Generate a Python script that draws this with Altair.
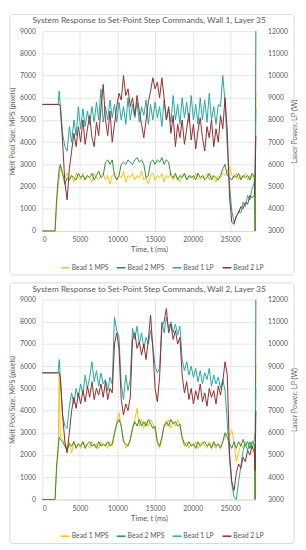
import altair as alt
import pandas as pd

# ---------------- data ----------------
time_ms = [0, 1700, 1900, 2100, 2250, 2400,
           2700, 3000, 3300, 3600, 3900, 4200, 4500, 4800, 5100, 5400,
           5700, 6000, 6300, 6600, 6900, 7200, 7500, 7800, 8100, 8400,
           8700, 9000, 9300, 9600, 9900, 10200, 10500, 10800, 11100, 11400,
           11700, 12000, 12300, 12600, 12900, 13200, 13500, 13800, 14100, 14400,
           14700, 15000, 15300, 15600, 15900, 16200, 16500, 16800, 17100, 17400,
           17700, 18000, 18300, 18600, 18900, 19200, 19500, 19800, 20100, 20400,
           20700, 21000, 21300, 21600, 21900, 22200, 22500, 22800, 23100, 23400,
           23700, 24000, 24300, 24600, 24900, 25200, 25500, 25800, 26100, 26400,
           26700, 27000, 27300, 27600, 27900, 28200,
           28300, 28400]

# Wall 1 -- melt pool size (pixels)
w1_bead1_mps = [0, 0, 1200, 2000, 2400, 2900,
                2500, 2400, 2600, 2300, 2500, 2200, 2600, 2400, 2300, 2600,
                2300, 2500, 2400, 2200, 2600, 2400, 2300, 2500, 2600, 2300,
                2500, 2100, 2500, 2600, 2300, 2500, 2400, 2700, 2200, 2500,
                2400, 2600, 2300, 2500, 2400, 2700, 2300, 2400, 2100, 2500,
                2600, 2300, 2500, 2400, 2600, 2200, 2500, 2400, 2600, 2300,
                2500, 2400, 2200, 2500, 2600, 2300, 2400, 2500, 2300, 2600,
                2400, 2300, 2500, 2400, 2600, 2300, 2500, 2400, 2200, 2500,
                2400, 2600, 2500, 2700, 2900, 2500, 2400, 2600, 2300, 2500,
                2400, 2600, 2300, 2500, 2400, 2500,
                0, 6300]
w1_bead2_mps = [0, 0, 1400, 2300, 2800, 3000,
                2600, 2100, 2400, 2300, 2500, 2400, 2300, 2600, 2400, 2500,
                2300, 2500, 2400, 2600, 2300, 2500, 2700, 2400, 2500, 3100,
                3200, 3000, 3200, 2500, 2300, 2500, 3000, 3100, 3000, 3200,
                3100, 3000, 3200, 3300, 3100, 3200, 3000, 2400, 2500, 3100,
                3200, 3000, 3200, 3100, 3300, 3000, 3200, 3100, 2500, 2400,
                2600, 2300, 2500, 2400, 2600, 2300, 2500, 2400, 2500, 2300,
                2600, 2400, 2500, 2300, 2400, 2600, 2300, 2500, 2400, 2300,
                2500, 2800, 3000, 2500, 2400, 2300, 2500, 2400, 2600, 2300,
                2500, 2400, 2500, 2300, 2600, 2400,
                0, 9000]
# Wall 1 -- laser power (W)
w1_bead1_lp = [8700, 8700, 8700, 8700, 9300, 8600,
               7400, 6800, 6600, 7700, 7000, 8000, 7300, 8600, 7600, 8500,
               7700, 8400, 7800, 8600, 7900, 8800, 8000, 9400, 7900, 8600,
               8000, 8900, 8100, 8700, 7900, 8800, 8000, 8600, 7800, 9000,
               8000, 8700, 8100, 8800, 7900, 8600, 8200, 8900, 7800, 8700,
               8000, 8800, 8100, 8600, 7700, 8900, 8000, 8500, 7900, 9100,
               8000, 8700, 7800, 9000, 8100, 8800, 7900, 9100, 8000, 8700,
               7800, 9000, 8000, 8900, 7900, 9200, 8000, 8600, 7800, 8700,
               8600, 10000, 8800, 6800, 5000, 3900, 3400, 3600, 3900, 3800,
               4300, 4100, 4600, 4400, 4900, 5200,
               5800, 8500]
w1_bead2_lp = [8700, 8700, 8700, 8700, 8700, 8600,
               7000, 5200, 4400, 5800, 6600, 7400, 6800, 7700, 7000, 8000,
               6900, 7600, 8200, 7200, 6800, 7900, 7300, 8500, 9600, 8000,
               7300, 8400, 7000, 7800, 8600, 9200, 8900, 10000, 9100, 9400,
               8600, 9000, 8200, 9100, 8400, 7800, 7200, 8000, 8800, 9300,
               9900, 9400, 9700, 9000, 9900, 9000, 8000, 8600, 7400, 8200,
               6800, 7800, 7200, 8000, 6900, 7600, 8300, 7100, 7800, 6700,
               7500, 8100, 7200, 6600, 7700, 7200, 8000, 6800, 7600, 7000,
               8200, 7600, 9000, 7500, 4500, 3400, 3300, 3700, 3800, 4100,
               4000, 4300, 4200, 4600, 4500, 4600,
               5500, 7300]

# Wall 2 -- melt pool size (pixels)
w2_bead1_mps = [0, 0, 1300, 2100, 5600, 2800,
                2700, 2500, 2300, 2600, 2100, 2600, 2400, 2500, 2300, 2600,
                2400, 2500, 2300, 2600, 2400, 2500, 2300, 2600, 2400, 2500,
                2300, 2600, 2400, 2900, 3500, 3900, 3300, 2700, 2300, 2500,
                2600, 3300, 3600, 4100, 3300, 3600, 3200, 3500, 3300, 3600,
                3400, 3100, 2500, 2300, 2700, 3400, 3300, 3600, 3200, 3500,
                3300, 3600, 3300, 2700, 2400, 2600, 2300, 2500, 2400, 2600,
                2300, 2500, 2600, 2400, 2300, 2600, 2400, 2500, 2300, 2500,
                2400, 2600, 2800, 3000, 2900, 3100, 2600, 1700, 2100, 2500,
                2300, 2600, 2400, 2300, 2600, 2400,
                0, 6100]
w2_bead2_mps = [0, 0, 1500, 2300, 2800, 2700,
                2600, 2400, 2200, 2500, 2400, 2600, 2300, 2500, 2400, 2600,
                2300, 2500, 2600, 2400, 2500, 2300, 2600, 2400, 2500, 2400,
                2600, 2400, 2500, 3000, 3400, 3600, 3300, 2600, 2500, 2400,
                2700, 3200, 3500, 3300, 3600, 3300, 3500, 3300, 3600, 3400,
                3200, 3300, 2600, 2400, 2800, 3300, 3500, 3300, 3600, 3400,
                3500, 3300, 3400, 2800, 2500, 2400, 2600, 2400, 2500, 2300,
                2600, 2400, 2500, 2600, 2400, 2500, 2300, 2600, 2400, 2500,
                2300, 2600, 3000, 2800, 2500, 2300, 2600, 2300, 2600, 2400,
                2700, 2400, 2600, 2300, 2600, 2500,
                0, 9000]
# Wall 2 -- laser power (W)
w2_bead1_lp = [8700, 8700, 8700, 8700, 9300, 8500,
               6800, 6300, 6200, 7200, 7800, 7300, 8000, 7600, 8200, 7700,
               8600, 8000, 8500, 9200, 8300, 8800, 8100, 8700, 8200, 8400,
               7900, 8500, 8200, 11200, 10600, 10300, 8200, 7500, 8600, 7900,
               8400, 10700, 10200, 10800, 10000, 10500, 9800, 10300, 10000, 10600,
               9900, 9000, 8700, 8900, 11000, 10500, 11200, 10700, 11000, 10500,
               10900, 10400, 10800, 9300, 8800, 9200, 8600, 9000, 8500, 8900,
               8300, 8800, 8200, 8700, 8400, 8900, 8100, 8600, 8200, 8500,
               8000, 8400, 7900, 6500, 4800, 3700, 3100, 3000, 3800, 4500,
               5200, 5500, 5200, 5600, 5300, 5700,
               6000, 8000]
w2_bead2_lp = [8700, 8700, 8700, 8700, 8700, 8500,
               6800, 5600, 5100, 6000, 7000, 7600, 7100, 7800, 7300, 7900,
               7400, 8100, 7600, 8300, 7500, 8000, 7700, 8200, 7600, 8300,
               7500, 8000, 7800, 10000, 10500, 9800, 7500, 6800, 7300, 7000,
               7600, 10200, 10500, 9800, 10100, 9500, 10000, 9300, 10200, 11300,
               9800, 8000, 7400, 8500, 10800, 11000, 11600, 10500, 10900, 10200,
               10600, 10000, 10300, 8600, 7800, 8300, 7500, 8000, 7300, 7900,
               7500, 8200, 7400, 7800, 7200, 8000, 7600, 7900, 7300, 8100,
               7700, 8300, 9200, 8600, 5000, 3800, 3400, 4200, 4600, 4400,
               4900, 4700, 5200, 5000, 5400, 5100,
               4300, 7000]

series_names = ["Bead 1 MPS", "Bead 2 MPS", "Bead 1 LP", "Bead 2 LP"]
series_colors = ["#FFC000", "#2A8C3C", "#1FA79E", "#8E2B2B"]
x_ticks = [0, 5000, 10000, 15000, 20000, 25000]
mps_ticks = [0, 1000, 2000, 3000, 4000, 5000, 6000, 7000, 8000, 9000]
lp_ticks = [3000, 4000, 5000, 6000, 7000, 8000, 9000, 10000, 11000, 12000]

FONT = "Lato"
TXT = "#595959"
GRID = "#E4E4E4"
W, H = 218, 204


def panel(title, b1m, b2m, b1l, b2l):
    n = len(time_ms)
    mps = pd.DataFrame({"t": time_ms + time_ms, "v": b1m + b2m,
                        "s": [series_names[0]] * n + [series_names[1]] * n})
    lp = pd.DataFrame({"t": time_ms + time_ms, "v": b1l + b2l,
                       "s": [series_names[2]] * n + [series_names[3]] * n})
    color = alt.Color(
        "s:N",
        scale=alt.Scale(domain=series_names, range=series_colors),
        legend=alt.Legend(title=None, orient="none", direction="horizontal",
                          legendX=18, legendY=236, symbolType="stroke",
                          symbolSize=81, symbolStrokeWidth=1.5, gridAlign="none",
                          labelFont=FONT, labelFontSize=7, labelColor=TXT,
                          columnPadding=5, labelOffset=1, padding=0),
    )
    x = alt.X("t:Q", scale=alt.Scale(domain=[0, 28400], nice=False, zero=False),
              axis=alt.Axis(values=x_ticks, title="Time, t (ms)", format="d",
                            grid=True, gridColor=GRID, domainColor="#D9D9D9",
                            ticks=False, labelPadding=5, titlePadding=3,
                            labelFont=FONT, labelFontSize=7, labelColor=TXT,
                            titleFont=FONT, titleFontSize=7.5, titleColor=TXT,
                            titleFontWeight="normal"))
    y_left = alt.Y("v:Q", scale=alt.Scale(domain=[0, 9000], nice=False),
                   axis=alt.Axis(orient="left", values=mps_ticks, format="d",
                                 title="Melt Pool Size, MPS (pixels)",
                                 grid=True, gridColor=GRID, domain=False,
                                 ticks=False, labelPadding=7, titlePadding=3,
                                 labelFont=FONT, labelFontSize=7, labelColor=TXT,
                                 titleFont=FONT, titleFontSize=7.5, titleColor=TXT,
                                 titleFontWeight="normal"))
    y_right = alt.Y("v:Q", scale=alt.Scale(domain=[3000, 12000], nice=False),
                    axis=alt.Axis(orient="right", values=lp_ticks, format="d",
                                  title="Laser Power, LP (W)",
                                  grid=False, domain=False, ticks=False,
                                  labelPadding=12, titlePadding=3,
                                  titleAngle=270, titleBaseline="top",
                                  labelFont=FONT, labelFontSize=7, labelColor=TXT,
                                  titleFont=FONT, titleFontSize=7.5, titleColor=TXT,
                                  titleFontWeight="normal"))
    frame = alt.Chart(pd.DataFrame({"k": [0]})).mark_rect(
        fillOpacity=0, stroke="#D9D9D9", strokeWidth=1, cornerRadius=3
    ).encode(x=alt.value(-33), x2=alt.value(W + 39), y=alt.value(-17), y2=alt.value(H + 45))
    l_mps = alt.Chart(mps).mark_line(strokeWidth=1).encode(x=x, y=y_left, color=color)
    l_lp = alt.Chart(lp).mark_line(strokeWidth=1).encode(x=x, y=y_right, color=color)
    return alt.layer(frame, l_mps, l_lp).resolve_scale(y="independent").properties(
        width=W, height=H,
        title=alt.TitleParams(text=title, font=FONT, fontSize=8.5, fontWeight="normal",
                              color=TXT, anchor="middle", frame="group", offset=-11),
    )


p1 = panel("System Response to Set-Point Step Commands, Wall 1, Layer 35",
           w1_bead1_mps, w1_bead2_mps, w1_bead1_lp, w1_bead2_lp)
p2 = panel("System Response to Set-Point Step Commands, Wall 2, Layer 35",
           w2_bead1_mps, w2_bead2_mps, w2_bead1_lp, w2_bead2_lp)

chart = alt.vconcat(p1, p2, spacing=6).resolve_scale(color="independent").properties(
    padding=0
).configure_view(stroke=None)

chart.save("out.html", embed_options={"renderer": "svg", "actions": False})
